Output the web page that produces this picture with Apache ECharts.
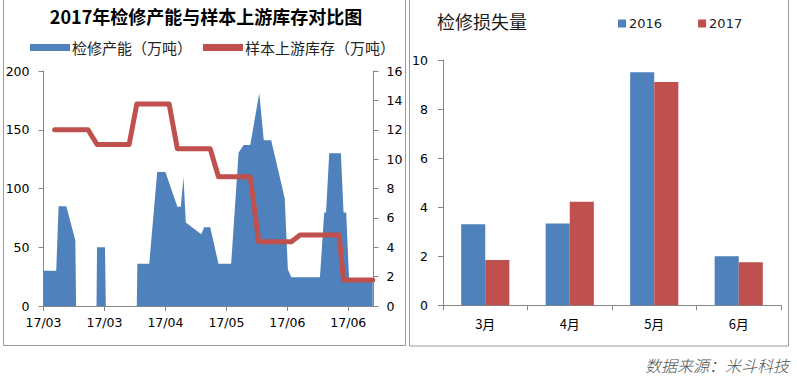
<!DOCTYPE html>
<html><head><meta charset="utf-8">
<script src="https://cdn.jsdelivr.net/npm/echarts@6/dist/echarts.min.js"></script>
<style>html,body{margin:0;padding:0;background:#fff}#c{width:797px;height:377px}</style>
</head><body><div id="c"></div>
<script>
// ---- data ----
const leftTitle = '2017年检修产能与样本上游库存对比图';
const capName = '检修产能（万吨）';
const invName = '样本上游库存（万吨）';
const dateTickDays = [0, 23, 46, 69, 92, 115];
const dateTickLabels = ['17/03', '17/03', '17/04', '17/05', '17/06', '17/06'];
const capDays =   [0, 4.8, 5.7, 8.6, 12.0, 12.3, 20.0, 20.2, 23.2, 23.5, 35.2, 35.4, 39.9, 42.9, 46.0, 50.5, 51.8, 52.8, 53.7, 59.5, 60.6, 62.9, 66.0, 70.8, 73.6, 75.5, 78.0, 81.4, 83.1, 85.9, 91.0, 92.2, 93.5, 104.3, 105.9, 106.6, 107.8, 112.2, 113.2, 114.2, 115.3, 124.2];
const capValues = [30, 30, 85, 85, 56, 0, 0, 50, 50, 0, 0, 36, 36, 114, 114, 84.5, 84.5, 109.5, 71, 61, 67, 67, 36, 36, 130.5, 137, 137, 181, 141, 141, 91.6, 31, 24.4, 24.4, 79.5, 79.5, 130, 130, 79.5, 79.5, 22, 22];
const invDays =   [4.2, 16.8, 20.2, 32.3, 35.2, 47.4, 50.5, 62.9, 66.0, 78.0, 81.2, 93.5, 96.8, 111.5, 113.2, 124.2];
const invValues = [12.0, 12.0, 11.0, 11.0, 13.75, 13.75, 10.7, 10.7, 8.8, 8.8, 4.38, 4.38, 4.83, 4.83, 1.77, 1.77];

const rightTitle = '检修损失量';
const months = ['3月', '4月', '5月', '6月'];
const loss2016 = [3.3, 3.33, 9.5, 2.0];
const loss2017 = [1.85, 4.22, 9.1, 1.76];
const sourceText = '数据来源：米斗科技';

// ---- styles ----
const BLUE = '#4F81BD', RED = '#C0504D', AXIS = '#868686';
const CJK = '"Noto Sans CJK SC", sans-serif';
const NUM = '"DejaVu Sans", sans-serif';
const axisLine = { show: true, lineStyle: { color: AXIS, width: 1 } };
const axisTick = { show: true, length: 5, inside: false, lineStyle: { color: AXIS } };

const chart = echarts.init(document.getElementById('c'), null, { renderer: 'svg' });
chart.setOption({
  animation: false,
  backgroundColor: '#fff',
  title: [
    { text: leftTitle, left: 206, top: 7, textAlign: 'center', padding: 0,
      textStyle: { fontFamily: CJK, fontSize: 18, fontWeight: 'bold', color: '#000' } },
    { text: rightTitle, left: 437, top: 12, padding: 0,
      textStyle: { fontFamily: CJK, fontSize: 18, fontWeight: 'normal', color: '#1a1a1a' } },
    { text: sourceText, right: 8, top: 357, padding: 0,
      textStyle: { fontFamily: CJK, fontSize: 16, fontStyle: 'italic', fontWeight: 300, color: '#505050' } }
  ],
  legend: [
    { left: 30, top: 40, padding: 0, itemWidth: 40, itemHeight: 7, itemGap: 11,
      data: [{ name: capName, icon: 'rect' }, { name: invName, icon: 'rect' }],
      textStyle: { fontFamily: CJK, fontSize: 15, color: '#222', padding: [0, 0, 0, -3] } },
    { left: 618, top: 17, padding: 0, itemWidth: 8, itemHeight: 8, itemGap: 36,
      data: [{ name: '2016', icon: 'rect' }, { name: '2017', icon: 'rect' }],
      textStyle: { fontFamily: NUM, fontSize: 13, color: '#222', padding: [0, 0, 0, -2] } }
  ],
  graphic: [
    { type: 'rect', shape: { x: 3.5, y: -3, width: 402, height: 348.5 }, style: { fill: 'none', stroke: '#9a9a9a', lineWidth: 1 } },
    { type: 'rect', shape: { x: 409.5, y: -3, width: 379, height: 349 }, style: { fill: 'none', stroke: '#9a9a9a', lineWidth: 1 } }
  ],
  grid: [
    { left: 43.5, top: 71, width: 330, height: 235 },
    { left: 443, top: 60, width: 338, height: 245.3 }
  ],
  xAxis: [
    { type: 'value', gridIndex: 0, min: 0, max: 124.5, interval: 23,
      axisLine: axisLine, splitLine: { show: false },
      axisTick: Object.assign({}, axisTick, { customValues: dateTickDays }),
      axisLabel: { customValues: dateTickDays, margin: 10, fontFamily: NUM, fontSize: 12.5, color: '#000',
        formatter: v => { const i = dateTickDays.indexOf(v); return i >= 0 ? dateTickLabels[i] : ''; } } },
    { type: 'category', gridIndex: 1, data: months,
      axisLine: axisLine, axisTick: axisTick, splitLine: { show: false },
      axisLabel: { margin: 12, fontFamily: CJK, fontSize: 13, color: '#000' } }
  ],
  yAxis: [
    { type: 'value', gridIndex: 0, min: 0, max: 200, interval: 50, position: 'left',
      axisLine: axisLine, axisTick: axisTick, splitLine: { show: false },
      axisLabel: { margin: 14, fontFamily: NUM, fontSize: 12.5, color: '#000' } },
    { type: 'value', gridIndex: 0, min: 0, max: 16, interval: 2, position: 'right',
      axisLine: axisLine, axisTick: axisTick, splitLine: { show: false },
      axisLabel: { margin: 13, fontFamily: NUM, fontSize: 12.5, color: '#000' } },
    { type: 'value', gridIndex: 1, min: 0, max: 10, interval: 2,
      axisLine: axisLine, axisTick: axisTick, splitLine: { show: false },
      axisLabel: { margin: 15, fontFamily: NUM, fontSize: 12.5, color: '#000' } }
  ],
  series: [
    { name: capName, type: 'line', xAxisIndex: 0, yAxisIndex: 0, color: BLUE,
      data: capDays.map((d, i) => [d, capValues[i]]),
      showSymbol: false, symbol: 'none', lineStyle: { width: 0, color: BLUE },
      areaStyle: { color: BLUE, opacity: 1 }, z: 2 },
    { name: invName, type: 'line', xAxisIndex: 0, yAxisIndex: 1, color: RED,
      data: invDays.map((d, i) => [d, invValues[i]]),
      showSymbol: false, symbol: 'none', lineStyle: { width: 5, color: RED, cap: 'round', join: 'round' }, z: 3 },
    { name: '2016', type: 'bar', xAxisIndex: 1, yAxisIndex: 2, color: BLUE, data: loss2016,
      barGap: '0%', barCategoryGap: '43%', itemStyle: { color: BLUE } },
    { name: '2017', type: 'bar', xAxisIndex: 1, yAxisIndex: 2, color: RED, data: loss2017,
      barGap: '0%', barCategoryGap: '43%', itemStyle: { color: RED } }
  ]
});
</script></body></html>
